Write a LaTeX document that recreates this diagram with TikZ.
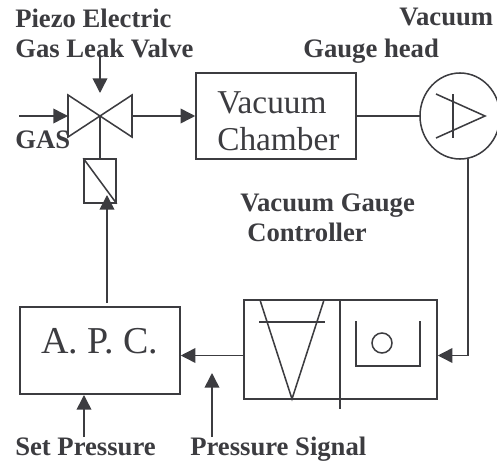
\documentclass[tikz,border=0pt]{standalone}
\usepackage{fontspec}
\setmainfont{Liberation Serif}
\usetikzlibrary{arrows.meta}
\definecolor{lineGray}{HTML}{3C3C40}
\tikzset{
  wire/.style={line width=1.15pt, lineGray},
  flow/.style={wire, -{Triangle[length=11pt,width=11pt]}},
  block/.style={wire, draw, inner sep=0pt},
  blocktext/.style={text=lineGray, inner sep=0pt, anchor=base west},
  tag/.style={text=lineGray, font=\bfseries\fontsize{20}{24}\selectfont, inner sep=0pt, anchor=base west}
}
\begin{document}
\begin{tikzpicture}[x=0.75pt, y=-0.75pt]
  \useasboundingbox (0,0) rectangle (497,464);
  % Valve
  \coordinate (valveMid) at (100,116);
  \coordinate (valveIn) at (68,116);
  \coordinate (valveOut) at (132,116);
  \draw[wire, line join=miter] (valveMid) -- (68,95) -- (68,137) -- cycle;
  \draw[wire, line join=miter] (valveMid) -- (132,95) -- (132,137) -- cycle;
  % Blocks
  \node[block, minimum width=120pt, minimum height=64.5pt] (chamber) at (276,116) {};
  \node[block, minimum width=24pt, minimum height=33pt] (solenoid) at (100,181) {};
  \node[block, minimum width=120pt, minimum height=65pt] (apc) at (100,350.5) {};
  \node[block, minimum width=144.75pt, minimum height=74.25pt] (controller) at (340.5,349.5) {};
  \draw[wire] (solenoid.north west) -- (solenoid.south east);
  % Block texts
  \node[blocktext, font=\fontsize{25}{30}\selectfont] (chamberOne) at (217,113) {Vacuum};
  \node[blocktext, font=\fontsize{25}{30}\selectfont] (chamberTwo) at (217,150) {Chamber};
  \node[blocktext, font=\fontsize{28.5}{34}\selectfont] (apcText) at (41,353) {A. P. C.};
  % Gauge head
  \draw[wire] (460,116) ellipse [x radius=40, y radius=43];
  \coordinate (gaugeW) at (420,116);
  \coordinate (gaugeS) at (468,158.5);
  \draw[wire] (436,94) -- (485,116) -- (436,138);
  \draw[wire] (453,94) -- (453,138);
  % Controller symbols
  \draw[wire] (340,300) -- (340,409);
  \draw[wire] (260,300) -- (292,399) -- (324,300);
  \draw[wire] (259,322) -- (325,322);
  \draw[wire] (356,321) -- (356,366) -- (420,366) -- (420,321);
  \draw[wire] (382,343) circle (10);
  % Connectors
  \coordinate (leakTop) at (100,55);
  \coordinate (leakEnd) at (100,93);
  \coordinate (gasStart) at (19,116);
  \coordinate (setStart) at (84,437);
  \coordinate (setEnd) at (84,395);
  \coordinate (signalStart) at (212,437);
  \coordinate (signalEnd) at (212,373);
  \coordinate (apcOut) at (107,303);
  \coordinate (solenoidIn) at (107,195);
  \coordinate (bend) at (468,355.5);
  \draw[flow] (leakTop) -- (leakEnd);
  \draw[flow] (gasStart) -- (valveIn);
  \draw[flow] (valveOut) -- (chamber.west);
  \draw[wire] (chamber.east) -- (gaugeW);
  \draw[wire] (valveMid) -- (solenoid.north);
  \draw[flow] (apcOut) -- (solenoidIn);
  \draw[flow] (gaugeS) -- (bend) -- (bend -| controller.east);
  \draw[flow] (bend -| controller.west) -- (bend -| apc.east);
  \draw[flow] (setStart) -- (setEnd);
  \draw[flow] (signalStart) -- (signalEnd);
  % Labels
  \node[tag] (piezo) at (15,27) {Piezo Electric};
  \node[tag] (leak) at (15,57) {Gas Leak Valve};
  \node[tag] (gas) at (15,148) {GAS};
  \node[tag] (vacuum) at (399,26) {Vacuum};
  \node[tag] (head) at (303,57) {Gauge head};
  \node[tag] (gaugeOne) at (240,211) {Vacuum Gauge};
  \node[tag] (gaugeTwo) at (247,241) {Controller};
  \node[tag] (setP) at (15,455) {Set Pressure};
  \node[tag] (signal) at (190,455) {Pressure Signal};
\end{tikzpicture}
\end{document}
